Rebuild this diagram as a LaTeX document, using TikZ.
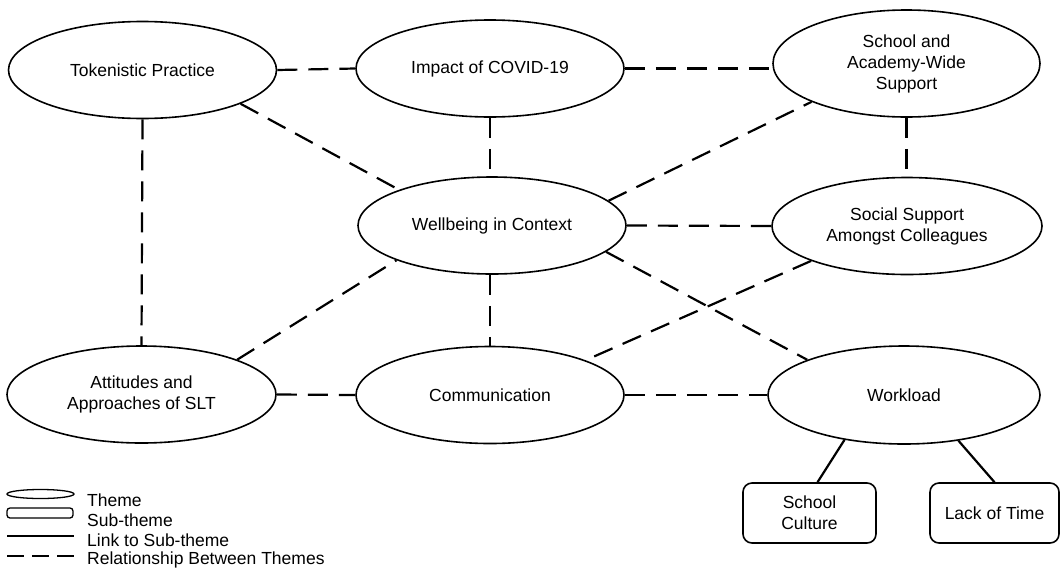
\documentclass[tikz,border=0pt]{standalone}
\usepackage{fontspec}
\setmainfont{Liberation Sans}
\usetikzlibrary{shapes.geometric}
\begin{document}
\begin{tikzpicture}[x=1pt,y=-1pt,
  every node/.style={font=\fontsize{17.5}{21}\selectfont, text=black},
  theme/.style={draw=black, line width=1.6pt, ellipse, minimum width=268pt, minimum height=97pt, inner sep=0pt, align=center},
  subtheme/.style={draw=black, line width=1.6pt, rounded corners=9pt, minimum width=131pt, minimum height=60pt, inner sep=0pt, align=center},
  rel/.style={draw=black, line width=2.2pt, dash pattern=on 20pt off 11pt},
  link/.style={draw=black, line width=2.2pt},
  legtext/.style={anchor=west, inner sep=0pt}
]
\useasboundingbox (0,0) rectangle (1062,568);

% themes
\node[theme] (tok) at (142.5,70) {Tokenistic Practice};
\node[theme] (imp) at (490,68.5) {Impact of COVID-19};
\node[theme, minimum height=107pt, minimum width=267pt] (sch) at (906.5,63.5) {School and\\Academy-Wide\\Support};
\node[theme, minimum width=268pt] (wel) at (492,225.5) {Wellbeing in Context};
\node[theme, minimum width=270pt] (soc) at (907,226) {Social Support\\Amongst Colleagues};
\node[theme, minimum width=269pt] (att) at (141.5,394.5) {Attitudes and\\Approaches of SLT};
\node[theme] (com) at (490,395) {Communication};
\node[theme, minimum width=272pt, minimum height=98pt] (wl) at (904,395) {Workload};

% sub-themes
\node[subtheme, minimum width=133pt] (sc) at (809.5,513) {School\\Culture};
\node[subtheme, minimum width=129pt] (lt) at (994.5,513) {Lack of Time};

% relationships
\draw[rel] (tok.east) -- (imp.west);
\draw[rel] (imp.east) -- (sch.west |- imp.east);
\draw[rel] (tok.-19) -- (wel.159);
\draw[rel] (tok.south) -- (att.north);
\draw[rel] (imp.south) -- (imp.south |- wel.north);
\draw[rel] (sch.south) -- (sch.south |- soc.north);
\draw[rel] (wel.12) -- (sch.202);
\draw[rel] (wel.east) -- (soc.west);
\draw[rel] (wel.-13) -- (wl.160);
\draw[rel] (soc.200) -- (com.20);
\draw[rel] (att.20) -- (wel.200);
\draw[rel] (wel.south -| com.north) -- (com.north);
\draw[rel] (att.east) -- (com.west);
\draw[rel] (com.east) -- (wl.west);

% links to sub-themes
\draw[link] (wl.217) -- ([xshift=8pt]sc.north);
\draw[link] (wl.320) -- (lt.north);

% legend
\node[draw=black, line width=1.3pt, ellipse, minimum width=67pt, minimum height=9pt, inner sep=0pt] (legth) at (40.5,494) {};
\node[draw=black, line width=1.3pt, rounded corners=3pt, minimum width=66pt, minimum height=10pt, inner sep=0pt] (legsub) at (40,513) {};
\coordinate (lla) at (7,536);
\coordinate (llb) at (74,536);
\coordinate (lra) at (7,556);
\coordinate (lrb) at (74,556);
\draw[link] (lla) -- (llb);
\draw[draw=black, line width=2.2pt, dash pattern=on 17pt off 8pt] (lra) -- (lrb);
\node[legtext] (t1) at (87,500) {Theme};
\node[legtext] (t2) at (87,520) {Sub-theme};
\node[legtext] (t3) at (87,540) {Link to Sub-theme};
\node[legtext] (t4) at (87,560) {Relationship Between Themes};
\end{tikzpicture}
\end{document}
